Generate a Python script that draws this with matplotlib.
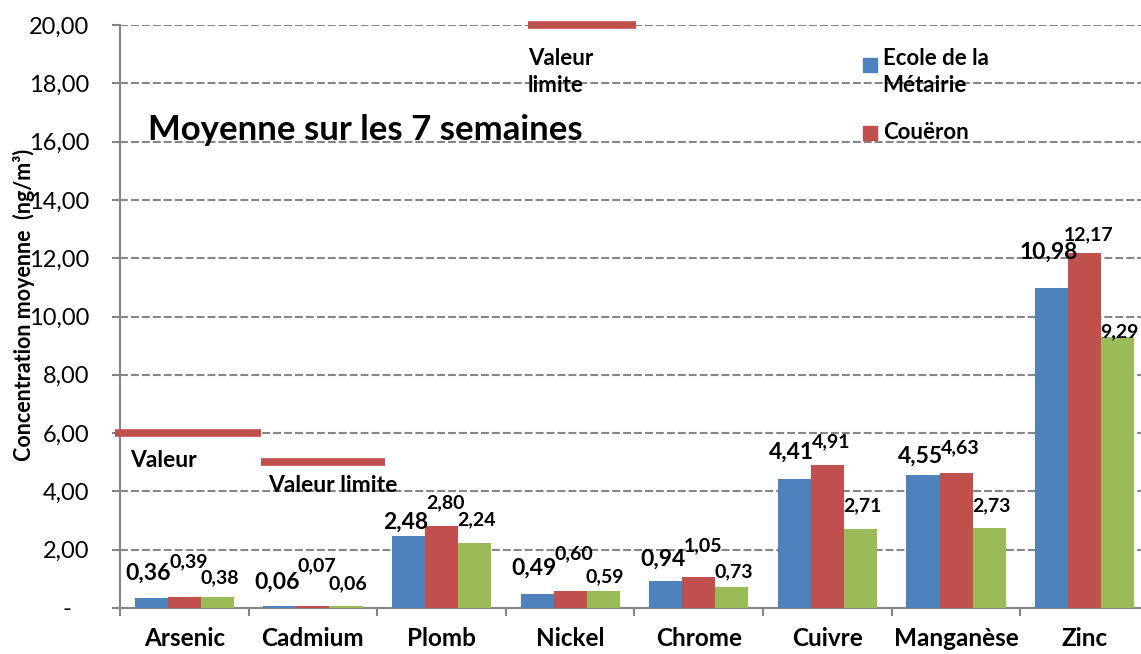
import matplotlib.pyplot as plt
import numpy as np

plt.rcParams['font.family'] = ['Lato', 'DejaVu Sans']

metaux = ['Arsenic', 'Cadmium', 'Plomb', 'Nickel', 'Chrome', 'Cuivre', 'Manganèse', 'Zinc']
ecole_metairie = [0.36, 0.06, 2.48, 0.49, 0.94, 4.41, 4.55, 10.98]
coueron = [0.39, 0.07, 2.80, 0.60, 1.05, 4.91, 4.63, 12.17]
site_3 = [0.38, 0.06, 2.24, 0.59, 0.73, 2.71, 2.73, 9.29]
noms_series = ['Ecole de la\nMétairie', 'Couëron']

# valeurs limites (As, Cd, Ni)
limites = [6.0, 5.0, 20.0]

bleu = '#4F81BD'
rouge = '#C0504D'
vert = '#9BBB59'
gris = '#868686'

# decalage des etiquettes au-dessus des barres (pixels), deplacees a la main dans l'original
decal_bleu = [24, 24, 14, 26, 21, 27, 19, 36]
decal_rouge = [35, 40, 24, 37, 32, 23, 25, 18]
decal_vert = [19, 23, 23, 14, 15, 23, 23, 5]


def fmt(v):
    return f"{v:.2f}".replace('.', ',')


fig = plt.figure(figsize=(11.41, 6.54), dpi=100)
ax = fig.add_axes([120 / 1141, 46 / 654, 1029 / 1141, 583 / 654])

x = np.arange(len(metaux))
w = 0.257
series = [(ecole_metairie, bleu, 16.5, decal_bleu, -3),
          (coueron, rouge, 14, decal_rouge, 4),
          (site_3, vert, 14, decal_vert, 2)]
for k, (vals, col, fs, decal, dx) in enumerate(series):
    pos = x + (k - 1) * w
    ax.bar(pos, vals, width=w, color=col, zorder=3)
    for xi, v, d in zip(pos, vals, decal):
        ax.annotate(fmt(v), (xi, v), xytext=(dx, d), textcoords='offset pixels',
                    ha='center', va='center', fontsize=fs, fontweight='bold', zorder=5)

# traits des valeurs limites
etendues = [(-0.54, 0.6), (0.6, 1.56), (2.67, 3.51)]
for lim, (x0, x1) in zip(limites, etendues):
    ax.plot([x0, x1], [lim, lim], color=rouge, lw=5.5, solid_capstyle='butt', zorder=4, clip_on=False)

ax.text(-0.42, 5.05, 'Valeur', fontsize=16.5, fontweight='bold', va='center')
ax.text(0.65, 4.2, 'Valeur limite', fontsize=16.5, fontweight='bold', va='center')
ax.text(2.67, 19.2, 'Valeur\nlimite', fontsize=16, fontweight='bold', va='top', linespacing=1.35)
ax.text(-0.28, 16.4, 'Moyenne sur les 7 semaines', fontsize=25, fontweight='bold', va='center')

# legende (tronquee dans l'original)
ax.plot([5.33], [18.63], marker='s', ms=10, color=bleu, clip_on=False)
ax.plot([5.33], [16.3], marker='s', ms=10, color=rouge, clip_on=False)
ax.text(5.43, 19.2, noms_series[0], fontsize=16, fontweight='bold', va='top', linespacing=1.35)
ax.text(5.43, 16.3, noms_series[1], fontsize=16, fontweight='bold', va='center')

ax.set_xlim(-0.5, 7.5)
ax.set_ylim(0, 20)
ax.set_yticks(np.arange(0, 21, 2))
ax.set_yticklabels(['-   '] + [fmt(v) for v in np.arange(2, 21, 2)], fontsize=17)
ax.set_xticks(x)
ax.set_xticklabels(metaux, fontsize=17.5, fontweight='bold')
ax.set_xticks(np.arange(-0.5, 8, 1), minor=True)
ax.tick_params(axis='x', which='major', length=0, pad=14)
ax.tick_params(axis='x', which='minor', length=6, width=1.5, color=gris, direction='out')
ax.tick_params(axis='y', length=6, width=1.5, color=gris, pad=16)

ax.grid(axis='y', color=gris, lw=1.5, linestyle=(0, (3.8, 1.45)), zorder=0)
for s in ['top', 'right']:
    ax.spines[s].set_visible(False)
for s in ['left', 'bottom']:
    ax.spines[s].set_color(gris)
    ax.spines[s].set_linewidth(1.5)

ax.set_ylabel('Concentration moyenne  (ng/m³)', fontsize=15.5, fontweight='bold')
ax.yaxis.label.set_va('center')
ax.yaxis.set_label_coords(-0.093, 0.52)

fig.savefig('out.png', dpi=100)
